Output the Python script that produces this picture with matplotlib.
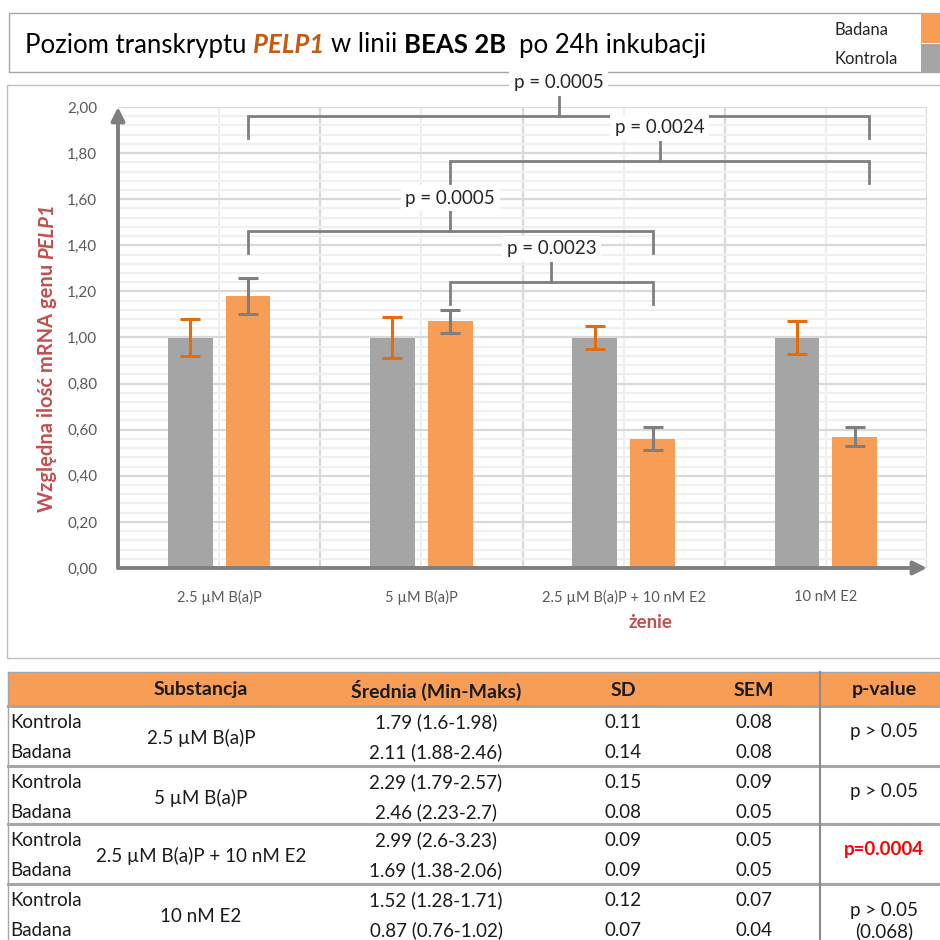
import numpy as np
import matplotlib
matplotlib.use("Agg")
import matplotlib.pyplot as plt
from matplotlib.patches import Rectangle
from matplotlib.ticker import MultipleLocator, FuncFormatter

plt.rcParams['font.family'] = ['Lato', 'DejaVu Sans']

# ---------------- data ----------------
categories = ["2.5 µM B(a)P", "5 µM B(a)P", "2.5 µM B(a)P + 10 nM E2", "10 nM E2"]
control_mean = [1.00, 1.00, 1.00, 1.00]
treated_mean = [1.18, 1.07, 0.56, 0.57]
control_err = [0.08, 0.09, 0.05, 0.07]
treated_err = [0.08, 0.05, 0.05, 0.04]

# comparisons between treated bars: (group a, group b, bracket height, label)
brackets = [
    (0, 3, 1.96, "p = 0.0005"),
    (1, 3, 1.765, "p = 0.0024"),
    (0, 2, 1.46, "p = 0.0005"),
    (1, 2, 1.24, "p = 0.0023"),
]

tab_header = ["Substancja", "Średnia (Min-Maks)", "SD", "SEM", "p-value"]
tab_mean_ctrl = ["1.79 (1.6-1.98)", "2.29 (1.79-2.57)", "2.99 (2.6-3.23)", "1.52 (1.28-1.71)"]
tab_mean_trt = ["2.11 (1.88-2.46)", "2.46 (2.23-2.7)", "1.69 (1.38-2.06)", "0.87 (0.76-1.02)"]
tab_sd_ctrl = ["0.11", "0.15", "0.09", "0.12"]
tab_sd_trt = ["0.14", "0.08", "0.09", "0.07"]
tab_sem_ctrl = ["0.08", "0.09", "0.05", "0.07"]
tab_sem_trt = ["0.08", "0.05", "0.05", "0.04"]
tab_p = ["p > 0.05", "p > 0.05", "p=0.0004", "p > 0.05\n(0.068)"]
tab_p_signif = [False, False, True, False]

ORANGE = '#F79D55'
GRAY = '#A5A5A5'
DARK_OR = '#E46C0A'
LINE = '#7F7F7F'
RED_LBL = '#C0504D'
TXT = '#595959'

W = H = 940
fig = plt.figure(figsize=(9.4, 9.4), dpi=100)
bg = fig.add_axes([0, 0, 1, 1])
bg.set_xlim(0, W)
bg.set_ylim(H, 0)
bg.axis('off')
renderer = fig.canvas.get_renderer()


def rich(x, y, pieces, fs, vertical=False, center=False):
    """pieces of differently styled text written one after another"""
    sp = (bg.text(0, 0, "x x", fontsize=fs).get_window_extent(renderer).width
          - bg.text(0, 0, "xx", fontsize=fs).get_window_extent(renderer).width)
    for t in bg.texts[-2:]:
        t.remove()
    objs, sizes = [], []
    for s, kw in pieces:
        t = bg.text(0, 0, s, fontsize=fs, ha='left', va='center',
                    rotation=90 if vertical else 0, rotation_mode='anchor', **kw)
        ext = t.get_window_extent(renderer)
        objs.append(t)
        sizes.append(ext.height if vertical else ext.width)
    total = sum(sizes) + sp * (len(sizes) - 1)
    pos = (y + total / 2 if vertical else x - total / 2) if center else (y if vertical else x)
    for t, s in zip(objs, sizes):
        if vertical:
            t.set_position((x, pos))
            pos -= s + sp
        else:
            t.set_position((pos, y))
            pos += s + sp


# ---------------- title box ----------------
bg.add_patch(Rectangle((9, 13), 935, 59, fill=False, ec='#A6A6A6', lw=1))
rich(25, 45, [("Poziom transkryptu", {}),
              ("PELP1", dict(fontweight='bold', style='italic', color='#C55A11')),
              ("w linii", {}),
              ("BEAS 2B", dict(fontweight='bold')),
              ("", {}),
              ("po 24h inkubacji", {})], 18.5)
bg.add_patch(Rectangle((921, 13), 25, 30, color=ORANGE, lw=0))
bg.add_patch(Rectangle((921, 44), 25, 28, color=GRAY, lw=0))
bg.text(835, 30, "Badana", fontsize=12, va='center', color='#262626')
bg.text(835, 59, "Kontrola", fontsize=12, va='center', color='#262626')

# ---------------- chart panel ----------------
bg.add_patch(Rectangle((7, 85), 940, 573, fill=False, ec='#BFBFBF', lw=1))

ax = fig.add_axes([118 / W, 1 - 568 / H, 809 / W, 461 / H])
ax.set_xlim(0, 4)
ax.set_ylim(0, 2)
ax.set_axisbelow(True)
for s in ax.spines.values():
    s.set_visible(False)

x = np.arange(len(categories)) + 0.5
off, bw = 0.143, 0.222
ax.bar(x - off, control_mean, bw, color=GRAY, yerr=control_err, zorder=3,
       error_kw=dict(ecolor=DARK_OR, elinewidth=2.2, capsize=7, capthick=2.2))
ax.bar(x + off, treated_mean, bw, color=ORANGE, yerr=treated_err, zorder=3,
       error_kw=dict(ecolor=LINE, elinewidth=2.2, capsize=7, capthick=2.2))

ax.set_xticks(x)
ax.set_xticklabels(categories, fontsize=10.5, color=TXT)
ax.set_xticks(np.arange(5), minor=True)
ax.yaxis.set_major_locator(MultipleLocator(0.2))
ax.yaxis.set_minor_locator(MultipleLocator(0.04))
ax.yaxis.set_major_formatter(FuncFormatter(lambda v, p: f"{v:.2f}".replace('.', ',')))
ax.tick_params(axis='y', which='both', length=0, pad=15, labelsize=11, labelcolor=TXT)
ax.tick_params(axis='x', which='both', length=0, pad=16)
ax.xaxis.grid(True, which='major', color='#EEEEEE', lw=1.6)
ax.xaxis.grid(True, which='minor', color='#D9D9D9', lw=1.6)
ax.yaxis.grid(True, which='major', color='#D9D9D9', lw=1.6)
ax.yaxis.grid(True, which='minor', color='#F0F0F0', lw=1.6)

# axis arrows
ax.annotate('', xy=(0, 1.0), xytext=(0, 0), xycoords='axes fraction',
            arrowprops=dict(arrowstyle='-|>', color=LINE, lw=2.8, mutation_scale=20,
                            shrinkA=0, shrinkB=0), annotation_clip=False, zorder=5)
ax.annotate('', xy=(1.0, 0), xytext=(0, 0), xycoords='axes fraction',
            arrowprops=dict(arrowstyle='-|>', color=LINE, lw=2.8, mutation_scale=20,
                            shrinkA=0, shrinkB=0), annotation_clip=False, zorder=5)

# significance brackets
leg, tick, txt_up = 0.095, 0.09, 0.145
for a, b, h, lab in brackets:
    xa, xb = x[a] + off, x[b] + off
    if b == 3:
        xb += 0.07  # right leg drawn slightly past the last bar in the original
    xm = (xa + xb) / 2
    ax.plot([xa, xa, xb, xb], [h - leg, h, h, h - leg], color=LINE, lw=2,
            clip_on=False, zorder=4, solid_joinstyle='miter')
    ax.plot([xm, xm], [h, h + tick], color=LINE, lw=2, clip_on=False, zorder=4)
    ax.text(xm, h + txt_up, lab, ha='center', va='center', fontsize=13.5, color='#262626',
            clip_on=False, zorder=6,
            bbox=dict(boxstyle='square,pad=0.25', fc='white', ec='none'))

# axis titles
rich(47, 358, [("Względna ilość mRNA genu", dict(fontweight='bold', color=RED_LBL)),
               ("PELP1", dict(fontweight='bold', style='italic', color=RED_LBL))],
     14.5, vertical=True, center=True)
bg.text(650, 622, "żenie", fontsize=13.5, fontweight='bold', color=RED_LBL,
        ha='center', va='center')

# ---------------- table ----------------
col_x = [201, 436, 623, 754, 884]
FS = 13.5
bg.add_patch(Rectangle((8, 672), 940, 34, color=ORANGE, lw=0))
bg.plot([8, 940], [672, 672], color='#A6A6A6', lw=1)
for cx, h in zip(col_x, tab_header):
    bg.text(cx, 690, h, ha='center', va='center', fontsize=14, fontweight='bold',
            color='#1A1A1A')

row_top = [706, 766, 824, 884]
for i, top in enumerate(row_top):
    bg.plot([8, 940], [top, top], color='#A6A6A6', lw=2.2)
    y1, y2 = top + 16, top + 46
    bg.text(10, y1, "Kontrola", fontsize=FS, va='center', color='#1A1A1A')
    bg.text(10, y2, "Badana", fontsize=FS, va='center', color='#1A1A1A')
    bg.text(col_x[0], top + 32, categories[i], fontsize=FS, ha='center', va='center',
            color='#1A1A1A')
    bg.text(col_x[1], y1, tab_mean_ctrl[i], fontsize=FS, ha='center', va='center', color='#1A1A1A')
    bg.text(col_x[1], y2, tab_mean_trt[i], fontsize=FS, ha='center', va='center', color='#1A1A1A')
    bg.text(col_x[2], y1, tab_sd_ctrl[i], fontsize=FS, ha='center', va='center', color='#1A1A1A')
    bg.text(col_x[2], y2, tab_sd_trt[i], fontsize=FS, ha='center', va='center', color='#1A1A1A')
    bg.text(col_x[3], y1, tab_sem_ctrl[i], fontsize=FS, ha='center', va='center', color='#1A1A1A')
    bg.text(col_x[3], y2, tab_sem_trt[i], fontsize=FS, ha='center', va='center', color='#1A1A1A')
    if tab_p_signif[i]:
        bg.text(col_x[4], top + 26, tab_p[i], fontsize=FS, ha='center', va='center',
                color='#FF0000', fontweight='bold')
    else:
        bg.text(col_x[4], top + 26 if '\n' not in tab_p[i] else top + 37, tab_p[i],
                fontsize=FS, ha='center', va='center', color='#1A1A1A', linespacing=1.25)
bg.plot([8, 8], [672, 940], color='#A6A6A6', lw=1)
bg.plot([820, 820], [672, 940], color='#8C8C8C', lw=1.5)

fig.savefig("out.png", dpi=100)
